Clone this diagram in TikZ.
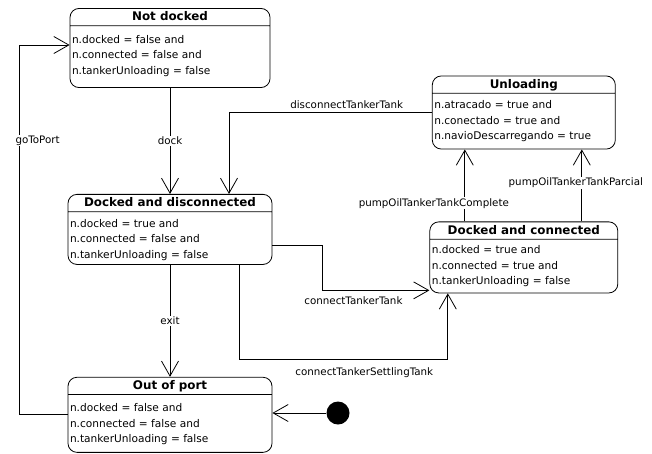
\documentclass[tikz,border=0pt]{standalone}
\usepackage{fontspec}
\setmainfont{DejaVu Sans}
\usetikzlibrary{positioning}
\usetikzlibrary{shapes.multipart,arrows.meta}

\newcommand{\bodyfont}{\fontsize{10.6}{15.5}\selectfont}
\newcommand{\headfont}{\fontsize{11.9}{13.5}\selectfont\bfseries\rule[-3.5pt]{0pt}{14.5pt}}
\newcommand{\labelfont}{\fontsize{10.3}{12}\selectfont}
% extra room above the first and below the last line of a state body
\newcommand{\topgap}[1]{\rule{0pt}{#1}}
\newcommand{\botgap}[1]{\rule[-#1]{0pt}{#1}}

\tikzset{
  state/.style={rectangle split, rectangle split parts=2, draw, line width=0.8pt,
    rounded corners=9pt, rectangle split part align={center,left}, align=left,
    font=\bodyfont, inner xsep=2pt, inner ysep=1pt},
  trans/.style={line width=0.8pt, -{Straight Barb[length=15pt,width=17pt,line width=0.8pt]}},
  lbl/.style={font=\labelfont, fill=white, inner sep=1pt}
}

\begin{document}
\begin{tikzpicture}[x=1pt, y=-1pt]
    \useasboundingbox (0,0) rectangle (652,453);

    \node(nd) [state, minimum width=200pt] at (170,48) {{\headfont Not docked}\nodepart{two}\topgap{16pt}n.docked = false and\\n.connected = false and\\n.tankerUnloading = false\botgap{12pt}};
    \node(dd) [state, minimum width=204pt, below=106pt of nd] {{\headfont Docked and disconnected}\nodepart{two}\topgap{14pt}n.docked = true and\\n.connected = false and\\n.tankerUnloading = false\botgap{5pt}};
    \node(op) [state, minimum width=204pt, below=112pt of dd] {{\headfont Out of port}\nodepart{two}\topgap{16pt}n.docked = false and\\n.connected = false and\\n.tankerUnloading = false\botgap{8pt}};
    \node(dc) [state, minimum width=188pt, right=157pt of dd, yshift=-28pt] {{\headfont Docked and connected}\nodepart{two}\topgap{13pt}n.docked = true and\\n.connected = true and\\n.tankerUnloading = false\botgap{7pt}};
    \node(ul) [state, minimum width=183pt, above=72pt of dc] {{\headfont Unloading}\nodepart{two}\topgap{14pt}n.atracado = true and\\n.conectado = true and\\n.navioDescarregando = true\botgap{8pt}};

    \node(init) [circle, fill, minimum size=23pt, inner sep=0pt] at (338,413) {};

    \draw[trans](nd.south -| dd.north) -- node[lbl] {dock} (dd.north);
    \draw[trans](dd.south) -- node[lbl] {exit} (op.north);
    \draw[trans](ul.west) -| node[lbl, pos=0.21, above=2pt] {disconnectTankerTank} ([xshift=59]dd.north);
    \draw[trans]([yshift=-16]dd.east) -- ++(50,0) |- node[lbl, pos=0.645, below=5pt] {connectTankerTank} ([yshift=3]dc.south west);
    \draw[trans]([xshift=69]dd.south) -- ++(0,95) -| node[lbl, pos=0.3, below=6pt] {connectTankerSettlingTank} ([xshift=-76]dc.south);
    \draw[trans](op.west) -- ++(-48,0) |- node[lbl, pos=0.371, xshift=18pt] {goToPort} ([yshift=3]nd.west);
    \draw[trans]([xshift=-59]dc.north) -- node[lbl, pos=0.25, xshift=-31pt] {pumpOilTankerTankComplete} ([xshift=-59]dc.north |- ul.south);
    \draw[trans]([xshift=58]dc.north) -- node[lbl, pos=0.54, xshift=-6pt] {pumpOilTankerTankParcial} ([xshift=58]dc.north |- ul.south);
    \draw[trans](init) -- (op.east |- init);
  \end{tikzpicture}
\end{document}
